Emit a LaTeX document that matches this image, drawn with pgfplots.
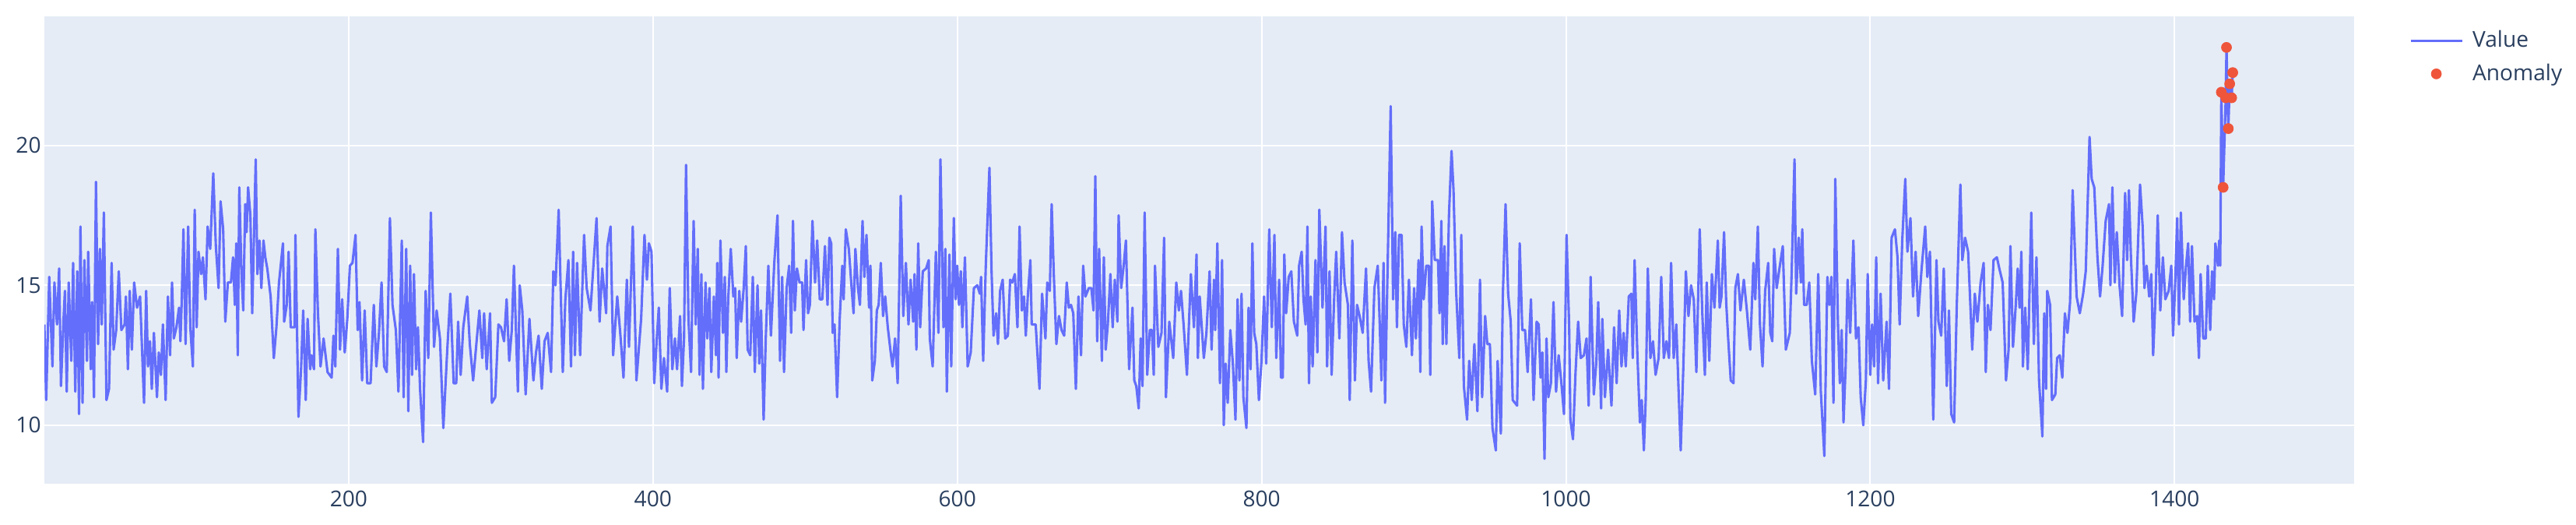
\documentclass[border=0pt]{standalone}
\usepackage{fontspec}
\setmainfont{Open Sans}
\usepackage{pgfplots}
\pgfplotsset{compat=1.18}
\definecolor{plotbg}{HTML}{E5ECF6}
\definecolor{valueblue}{HTML}{636EFA}
\definecolor{anomred}{HTML}{EF553B}
\definecolor{fontcol}{HTML}{2A3F5F}
\pgfplotsset{
  value legimg/.style={legend image code/.code={\draw[##1] (0mm,0mm) -- (13.2mm,0mm);}},
  anomaly legimg/.style={legend image code/.code={\draw[##1] plot coordinates {(6.6mm,0mm)};}},
}

\begin{document}
\fontsize{16}{19}\selectfont
\begin{tikzpicture}
% 1px of the reference = 0.2mm
\path[use as bounding box] (-11.4mm,-10.6mm) rectangle (650.4mm,124.2mm);
\begin{axis}[
  at={(0,0)}, anchor=south west,
  scale only axis, width=593.4mm, height=120mm,
  xmin=0, xmax=1518, ymin=7.91, ymax=24.61,
  axis background/.style={fill=plotbg},
  axis line style={draw=none},
  major tick length=0pt,
  xtick={200,400,...,1400}, ytick={10,15,20},
  grid=major, major grid style={white, line width=0.4mm},
  tick label style={font=\fontsize{16}{19}\selectfont, text=fontcol},
  xticklabel style={anchor=north, inner sep=0pt, yshift=-1.8mm},
  yticklabel style={anchor=east, inner sep=0pt, xshift=-0.8mm},
  /pgf/number format/assume math mode=true,
  /pgf/number format/1000 sep={},
  legend style={
    at={(rel axis cs:1,1)}, anchor=north west, xshift=14.2mm, yshift=-3.7mm,
    draw=none, fill=none, inner sep=0pt, outer sep=0pt,
    row sep=3.4mm, column sep=2.4mm,
    font=\fontsize{16}{19}\selectfont, text=fontcol,
    nodes={inner sep=0pt},
  },
  legend cell align=left,
]
\addplot[color=valueblue, line width=0.62mm, line join=round, value legimg]
coordinates {
(0,13.6)(1.2,10.9)(3.2,15.3)(5.3,12.1)(6.6,15.1)(8.3,13.6)(9.7,15.6)(10.9,11.4)(12.6,13.8)(13.5,14.8)(14.7,11.2)(16.0,15.1)(17.7,12.3)(18.9,15.8)(20.3,11.2)(21.6,15.5)(22.8,10.4)(23.7,17.1)(25.1,10.8)(26.3,15.9)(28.0,12.3)(28.8,16.2)(30.5,12.0)(31.4,14.4)(32.6,11.0)(33.9,18.7)(35.3,12.9)(36.5,16.3)(37.7,13.6)(39.1,17.6)(40.8,10.9)(42.5,11.3)(44.2,15.8)(45.5,12.7)(47.2,13.4)(48.9,15.5)(50.6,13.4)(52.7,13.6)(53.6,14.6)(54.9,12.0)(56.1,14.8)(57.5,12.7)(59.0,15.1)(60.9,14.2)(62.9,14.6)(65.5,10.8)(66.9,14.8)(68.1,12.1)(69.4,13.0)(70.6,11.3)(72.0,13.3)(74.0,11.0)(75.2,12.6)(76.6,11.8)(77.9,13.6)(79.7,10.9)(81.2,14.6)(82.6,12.5)(83.9,15.1)(85.1,13.1)(86.8,13.5)(88.5,14.2)(89.4,13.0)(90.2,14.3)(91.4,17.0)(92.8,12.9)(94.5,17.1)(95.9,13.5)(97.6,12.1)(98.8,17.7)(100.1,13.5)(101.3,16.2)(103.0,15.4)(104.2,16.0)(105.9,14.5)(107.3,17.1)(109.0,16.3)(111.0,19.0)(112.7,16.4)(114.5,14.9)(115.8,18.0)(117.5,17.0)(118.9,13.7)(120.6,15.1)(122.6,15.1)(124.0,16.0)(125.2,14.3)(126.1,16.5)(127.1,12.5)(128.1,18.5)(129.5,15.5)(130.7,14.1)(132.0,17.9)(132.9,16.9)(133.9,18.5)(135.4,17.5)(136.6,14.0)(138.9,19.5)(140.0,15.4)(141.4,16.6)(142.6,14.9)(144.0,16.6)(145.2,16.0)(146.5,15.6)(148.7,14.6)(150.8,12.4)(152.5,13.5)(154.2,15.1)(156.8,16.5)(157.6,13.7)(159.3,14.3)(160.5,16.2)(161.9,13.5)(164.4,13.5)(165.0,16.8)(167.0,10.3)(168.7,12.0)(170.1,14.1)(171.8,10.9)(173.0,13.8)(174.7,12.0)(175.5,12.5)(177.2,12.0)(178.1,17.0)(179.8,14.0)(181.5,12.1)(183.5,13.1)(186.1,11.9)(188.8,11.7)(190.0,13.2)(191.2,12.1)(192.9,16.3)(194.3,12.7)(195.7,14.5)(197.4,12.6)(199.1,13.8)
(200.8,15.7)(202.5,15.8)(204.5,16.8)(205.9,13.4)(207.1,14.4)(208.8,11.6)(210.5,14.1)(212.2,11.5)(214.4,11.5)(216.5,14.3)(218.2,12.1)(219.9,13.3)(221.6,15.1)(223.3,12.1)(225.0,11.9)(227.1,17.4)(228.8,14.3)(231.0,13.4)(232.7,11.2)(234.9,16.6)(236.1,11.0)(237.8,16.3)(239.2,10.5)(240.4,15.7)(241.6,11.8)(242.9,15.4)(244.3,12.0)(245.5,13.5)(246.9,11.3)(248.9,9.4)(250.6,14.8)(252.3,12.4)(254.0,17.6)(256.1,12.8)(257.8,14.1)(260.0,13.1)(262.2,9.9)(264.6,12.5)(266.8,14.7)(269.0,11.5)(270.7,11.5)(271.9,13.7)(273.6,11.8)(275.3,13.5)(277.9,14.6)(279.6,12.9)(281.8,11.6)(283.9,12.9)(285.9,14.1)(287.8,12.4)(289.0,14.0)(290.7,12.0)(292.9,14.0)(294.1,10.8)(296.3,11.0)(298.4,13.6)(300.1,13.5)(302.1,13.0)(303.8,14.5)(305.5,12.3)(307.2,13.4)(308.6,15.7)(311.2,11.2)(312.4,15.0)(314.1,14.1)(316.3,11.1)(318.8,13.8)(321.4,11.6)(323.1,12.6)(324.8,13.2)(326.9,11.3)(328.7,13.0)(330.8,13.3)(333.0,11.9)(334.5,15.5)(335.9,15.0)(338.0,17.7)(340.7,11.9)(342.4,14.5)(344.4,15.9)(346.1,12.1)(347.5,16.2)(348.7,12.5)(350.1,15.8)(352.1,12.5)(354.7,16.8)(356.4,14.9)(358.9,14.1)(360.6,15.5)(362.9,17.4)(364.9,13.7)(366.6,15.6)(369.2,14.0)(370.0,16.4)(372.1,17.1)(373.8,12.5)(376.5,14.6)(378.6,13.2)(380.6,11.7)(382.8,15.2)(384.2,12.8)(386.7,17.1)(389.1,11.6)(392.2,13.8)(394.4,16.8)
(396.0,15.2)(397.3,16.5)(399.0,16.2)(400.8,11.5)(402.5,13.1)(403.8,14.2)(405.5,11.3)(407.2,12.4)(409.3,11.2)(411.0,14.9)(412.7,12.0)(414.4,13.1)(415.8,12.0)(417.8,13.9)(419.0,11.4)(420.4,13.1)(421.7,19.3)(423.3,13.8)(425.0,11.9)(426.7,17.3)(428.1,13.6)(429.4,16.3)(430.6,11.8)(431.8,15.4)(432.8,11.3)(434.5,15.1)(435.7,13.1)(437.1,14.9)(438.3,11.9)(440.0,14.6)(441.4,12.5)(442.2,15.8)(443.1,11.7)(444.3,16.6)(446.0,13.3)(447.2,15.3)(448.2,11.9)(449.4,14.5)(451.1,16.3)(452.8,14.6)(454.0,14.9)(455.0,12.4)(456.7,14.8)(457.9,13.7)(459.6,14.9)(461.0,16.4)(462.2,12.7)(463.9,12.5)(465.6,15.3)(466.9,11.9)(468.7,15.0)(469.8,12.2)(471.0,14.1)(472.7,10.2)(474.1,13.1)(475.8,15.7)(477.5,13.2)(479.7,15.8)(481.8,17.5)(483.5,12.3)(484.9,15.3)(486.1,11.9)(487.8,14.9)(489.5,15.7)(490.8,13.3)(492.0,17.3)(493.2,14.1)(494.6,15.6)(496.3,15.1)(498.0,15.1)(498.9,13.4)(500.6,15.9)(501.9,14.0)(503.1,14.3)(504.8,17.3)(506.5,15.1)(507.9,16.6)(509.6,14.5)(511.3,14.5)(513.0,16.4)(514.7,14.3)(515.9,16.7)(517.1,16.5)(518.1,13.3)(519.3,13.6)(521.0,11.0)(522.7,13.8)(524.4,15.7)(525.3,14.5)(526.7,17.0)(528.7,16.3)(530.4,15.0)(531.8,14.0)(533.0,16.3)(534.7,14.9)(536.0,14.3)(537.7,17.3)(538.9,15.3)(540.3,16.8)(542.0,14.2)(542.9,15.7)(544.1,11.6)(545.8,12.3)(547.1,14.1)(548.3,14.3)(549.7,15.8)(551.2,13.9)(552.6,14.6)(554.3,13.5)(556.0,12.7)(557.4,12.1)(559.1,13.1)(560.8,11.5)(562.8,18.2)(564.5,13.9)(566.2,15.8)(567.9,13.6)(569.3,15.2)(571.0,13.7)(571.9,15.4)(573.1,12.7)(574.3,16.5)(575.6,13.5)(577.3,15.5)(579.5,15.6)(581.2,15.9)(581.9,13.1)(583.8,12.1)(585.9,16.2)(587.6,13.3)(588.9,19.5)
(590.9,13.5)(592.1,16.3)(593.1,11.2)(594.8,16.1)(596.0,12.1)(597.7,17.4)(598.9,14.5)(599.9,15.7)(601.1,14.3)(602.3,15.5)(603.3,13.5)(605.0,16.0)(606.8,12.1)(608.8,12.6)(610.9,14.9)(613.1,15.0)(614.8,14.7)(615.6,15.3)(617.0,12.3)(618.7,15.7)(621.1,19.2)(622.5,15.5)(623.8,13.2)(625.5,14.0)(626.7,12.9)(628.1,14.8)(629.8,15.2)(631.5,13.1)(633.2,13.2)(634.7,15.2)(636.1,15.1)(637.8,15.4)(639.5,13.5)(640.9,17.1)(642.4,14.1)(643.8,14.6)(645.0,13.2)(646.3,14.6)(648.0,15.9)(648.9,13.6)(651.5,13.6)(654.0,11.3)(655.7,14.7)(657.9,13.1)(659.1,15.1)(660.8,14.8)(662.0,17.9)(663.4,15.4)(665.1,12.9)(666.8,13.9)(668.5,13.4)(670.2,13.2)(671.9,15.1)(673.3,14.2)(674.7,14.3)(676.2,14.0)(677.9,11.3)(679.6,14.6)(681.3,12.5)(682.7,15.7)(684.2,14.6)(686.4,14.9)(688.1,14.9)(689.5,14.1)(690.7,18.9)(691.9,13.0)(693.2,16.3)(695.0,12.3)(696.3,16.0)(697.5,12.7)(698.9,13.6)(700.6,15.4)(702.1,13.5)(703.5,15.2)(705.2,13.7)(706.0,17.5)(707.7,14.9)(709.5,15.8)(710.8,16.6)(712.9,12.0)(715.1,14.2)(716.3,11.6)(717.6,11.4)(719.2,10.6)(720.5,13.1)(721.7,11.4)(723.1,17.6)(724.8,11.8)(726.5,13.4)(727.9,13.4)(729.1,11.8)(729.9,15.7)(732.1,12.8)(734.2,13.3)(735.9,16.7)(737.1,11.0)(739.3,13.7)(741.9,12.4)(743.9,15.1)(745.6,14.1)(747.0,14.8)(748.7,13.6)(750.9,11.8)(753.5,15.4)(755.5,13.5)(757.2,16.1)(758.1,12.4)(759.3,14.6)(762.0,12.4)(763.7,13.3)(765.8,15.5)(767.1,12.7)(768.7,15.2)(769.5,13.4)(770.9,16.5)(772.6,11.5)(774.0,15.9)(775.1,10.0)(776.3,12.2)(777.7,10.8)(779.4,13.4)(781.1,12.2)(782.8,10.2)(784.2,14.5)
(785.4,11.6)(786.8,14.7)(788.0,11.0)(790.0,9.9)(791.4,14.2)(792.7,12.0)(793.9,16.5)(795.1,13.3)(796.5,12.9)(798.2,10.9)(799.9,12.3)(801.6,14.6)(803.0,12.2)(805.0,17.0)(806.7,13.5)(808.4,16.8)(809.6,12.4)(811.5,15.2)(812.7,11.7)(813.9,11.7)(814.9,16.1)(816.1,14.0)(817.8,15.3)(819.5,15.5)(821.2,13.7)(823.4,13.2)(824.6,15.7)(826.3,16.2)(827.5,14.5)(828.9,13.6)(830.1,17.1)(831.1,11.5)(832.3,14.6)(833.5,12.1)(835.4,15.9)(836.6,12.6)(837.9,17.7)(840.0,14.2)(842.0,17.1)(843.0,12.1)(844.6,15.5)(846.0,11.8)(847.7,14.6)(849.0,16.2)(851.1,13.1)(852.8,16.9)(854.5,15.1)(856.7,14.3)(857.9,10.9)(859.6,16.6)(861.3,11.6)(862.7,14.3)(864.4,13.9)(866.4,13.3)(868.6,15.6)(870.3,12.3)(871.9,11.2)(874.1,14.9)(876.3,15.7)(877.5,13.8)(878.7,11.6)(880.1,15.8)(881.1,10.8)(882.6,15.1)(884.8,21.4)(886.4,14.5)(887.8,16.9)(888.9,13.5)(890.3,16.8)(892.0,16.8)(893.4,13.6)(895.1,12.8)(896.8,15.2)(898.8,12.5)(900.2,14.9)(901.4,13.1)(903.1,15.9)(904.3,11.9)(905.1,17.1)(906.5,14.5)(908.2,15.7)(909.9,15.7)(910.8,11.8)(912.1,18.0)(913.8,15.9)(915.9,15.9)(916.9,14.0)(918.1,17.3)(919.0,12.9)(920.2,16.4)(921.4,12.9)(923.1,17.5)(924.8,19.8)(926.1,18.4)(927.8,14.8)(929.9,12.4)(931.2,16.8)(932.9,11.4)(935.0,10.2)(936.4,12.3)(938.1,10.9)(939.8,12.9)(941.8,10.5)(943.5,15.2)(944.9,11.0)(946.9,13.9)(948.3,12.9)(950.0,12.9)(951.7,9.9)(953.9,9.1)(955.1,12.3)(957.2,9.7)(958.5,14.6)(960.3,17.9)(962.0,14.7)(963.7,13.7)(965.0,10.9)(967.9,10.7)(969.6,16.5)(971.3,13.4)(973.1,13.4)(974.8,11.9)(977.0,14.5)(978.7,10.9)
(980.7,13.7)(982.1,13.6)(983.3,11.7)(984.5,12.6)(985.9,8.8)(987.2,13.1)(988.4,11.0)(990.1,11.5)(991.8,14.4)(993.5,11.2)(995.2,12.5)(997.0,11.5)(998.7,10.4)(1000.4,16.8)(1002.1,13.5)(1002.9,10.2)(1004.6,9.5)(1006.3,11.9)(1008.0,13.7)(1009.7,12.4)(1011.8,12.5)(1013.5,13.1)(1014.9,10.7)(1016.2,15.3)(1018.3,11.1)(1020.0,12.3)(1021.2,14.4)(1023.1,10.6)(1023.9,13.8)(1025.6,11.0)(1027.7,12.7)(1029.9,10.7)(1031.6,13.5)(1033.3,11.5)(1035.0,14.1)(1036.5,12.1)(1037.9,13.3)(1039.3,12.1)(1041.3,14.6)(1043.0,14.7)(1043.9,12.4)(1045.1,15.9)(1046.9,12.6)(1048.6,10.1)(1049.8,10.9)(1051.2,9.1)(1052.4,10.9)(1053.8,15.6)(1055.5,12.4)(1057.2,13.0)(1058.9,11.8)(1060.9,12.4)(1062.6,15.3)(1064.3,12.4)(1066.0,13.0)(1067.7,12.4)(1069.1,15.8)(1070.8,12.4)(1072.5,13.6)(1075.4,9.1)(1077.1,12.0)(1078.8,15.5)(1080.5,13.9)(1082.2,15.0)(1084.0,14.5)(1085.7,11.9)(1087.9,17.0)(1089.6,14.0)(1091.3,11.8)(1092.5,15.1)(1094.2,12.3)(1095.9,15.4)(1097.6,14.2)(1099.8,16.6)(1101.0,14.2)(1102.2,14.6)(1103.9,16.9)(1105.3,14.4)(1106.6,13.1)(1108.3,11.6)(1110.1,11.5)(1111.3,14.9)(1113.0,15.4)(1114.7,14.1)(1116.9,15.2)(1118.9,14.1)(1121.1,12.7)(1123.2,15.8)(1124.4,14.5)(1126.1,17.1)(1127.5,13.6)(1129.2,12.1)(1130.9,14.8)(1132.9,15.8)(1134.3,13.3)(1135.6,13.0)(1136.8,16.3)(1138.5,14.9)(1140.3,15.6)(1142.5,16.4)(1144.5,12.7)(1147.1,13.3)(1148.4,15.6)(1150.2,19.5)(1151.3,14.7)(1153.0,16.7)(1154.4,15.1)(1155.3,17.0)(1156.5,14.3)(1158.2,14.3)(1159.9,15.1)(1161.6,12.3)(1163.8,11.1)(1165.8,15.4)(1167.5,11.2)(1169.8,8.9)(1171.8,15.3)
(1173.2,14.3)(1174.4,15.3)(1175.8,10.8)(1177.0,18.8)(1178.7,13.7)(1180.0,11.5)(1181.2,13.4)(1182.4,10.1)(1183.8,12.1)(1185.1,15.2)(1186.8,13.3)(1188.9,16.6)(1190.6,13.1)(1192.3,13.5)(1193.7,11.0)(1195.4,10.0)(1197.1,11.6)(1198.3,15.4)(1200.0,11.8)(1201.2,13.6)(1202.5,12.1)(1203.9,16.0)(1205.1,11.5)(1206.8,14.7)(1208.5,11.6)(1210.7,13.7)(1212.3,11.3)(1214.0,16.7)(1216.2,17.0)(1217.9,16.0)(1219.3,13.6)(1221.0,16.6)(1223.0,18.8)(1224.4,16.2)(1226.4,17.4)(1228.1,14.6)(1229.8,16.2)(1231.5,13.9)(1233.6,15.5)(1236.1,17.1)(1237.5,15.3)(1239.2,16.2)(1241.4,10.2)(1243.5,15.9)(1244.8,13.7)(1246.6,13.2)(1248.3,15.6)(1250.3,11.4)(1251.7,14.1)(1253.2,10.4)(1255.1,10.1)(1256.8,14.2)(1259.2,18.6)(1260.5,15.9)(1262.3,16.7)(1264.3,16.2)(1267.0,12.7)(1268.7,14.7)(1270.4,13.7)(1272.5,15.1)(1274.5,15.8)(1275.9,11.9)(1277.3,14.3)(1279.0,13.4)(1281.0,15.9)(1283.2,16.0)(1284.8,15.6)(1287.0,15.1)(1289.2,11.6)(1290.9,12.7)(1292.1,16.4)(1293.8,12.8)(1295.5,14.2)(1296.9,15.6)(1298.1,14.2)(1299.3,16.2)(1300.3,12.1)(1301.8,14.2)(1303.5,12.0)(1305.8,17.6)(1307.5,12.9)(1309.2,16.0)(1310.9,11.6)(1313.1,9.6)(1314.3,14.0)(1315.5,11.3)(1316.3,14.8)(1318.2,14.3)(1319.4,10.9)(1321.6,11.1)(1322.8,12.4)(1324.5,12.5)(1326.2,11.7)(1327.9,14.0)(1329.6,13.3)(1331.3,14.4)(1333.0,18.4)(1335.6,14.6)(1337.7,14.0)(1339.9,14.7)(1341.6,15.5)(1344.1,20.3)(1345.5,18.8)(1347.2,18.5)(1349.3,16.0)(1351.0,14.6)(1352.7,15.7)(1354.7,17.3)(1356.9,17.9)(1357.8,15.0)(1359.1,18.5)(1360.7,15.1)(1362.0,16.9)(1363.8,15.0)(1365.5,13.9)(1367.5,18.3)
(1368.8,15.9)(1370.0,18.4)(1371.3,16.0)(1373.1,13.7)(1374.8,14.7)(1377.3,18.6)(1379.0,17.1)(1380.2,14.9)(1381.6,15.7)(1383.3,14.6)(1384.7,15.4)(1385.9,12.5)(1387.6,14.8)(1388.9,17.5)(1390.6,14.1)(1392.3,16.0)(1393.9,14.5)(1396.1,14.8)(1397.8,15.7)(1399.0,13.2)(1400.4,15.1)(1401.7,17.4)(1402.9,13.6)(1404.1,17.6)(1406.0,14.5)(1407.5,15.7)(1408.9,16.5)(1410.2,13.7)(1411.4,16.4)(1413.1,13.7)(1414.8,13.9)(1416.0,12.4)(1417.1,15.4)(1418.8,13.1)(1420.5,13.1)(1421.8,15.7)(1423.4,13.4)(1424.6,15.5)(1425.9,14.5)(1426.8,16.5)(1428.5,15.7)(1429.3,16.6)(1430.0,15.7)
(1430.7,21.9)(1431.9,18.5)(1433.6,21.7)(1434.1,23.5)(1435.3,20.6)(1436.2,22.2)(1437.5,21.7)(1438.2,22.6)
};
\addlegendentry{Value}
\addplot[only marks, mark=*, mark size=1.3mm, color=anomred,
  mark options={draw=none, fill=anomred}, anomaly legimg]
coordinates {
(1430.7,21.9)(1431.9,18.5)(1433.6,21.7)(1434.1,23.5)(1435.3,20.6)(1436.2,22.2)(1437.5,21.7)(1438.2,22.6)
};
\addlegendentry{Anomaly}
\end{axis}
\end{tikzpicture}
\end{document}
